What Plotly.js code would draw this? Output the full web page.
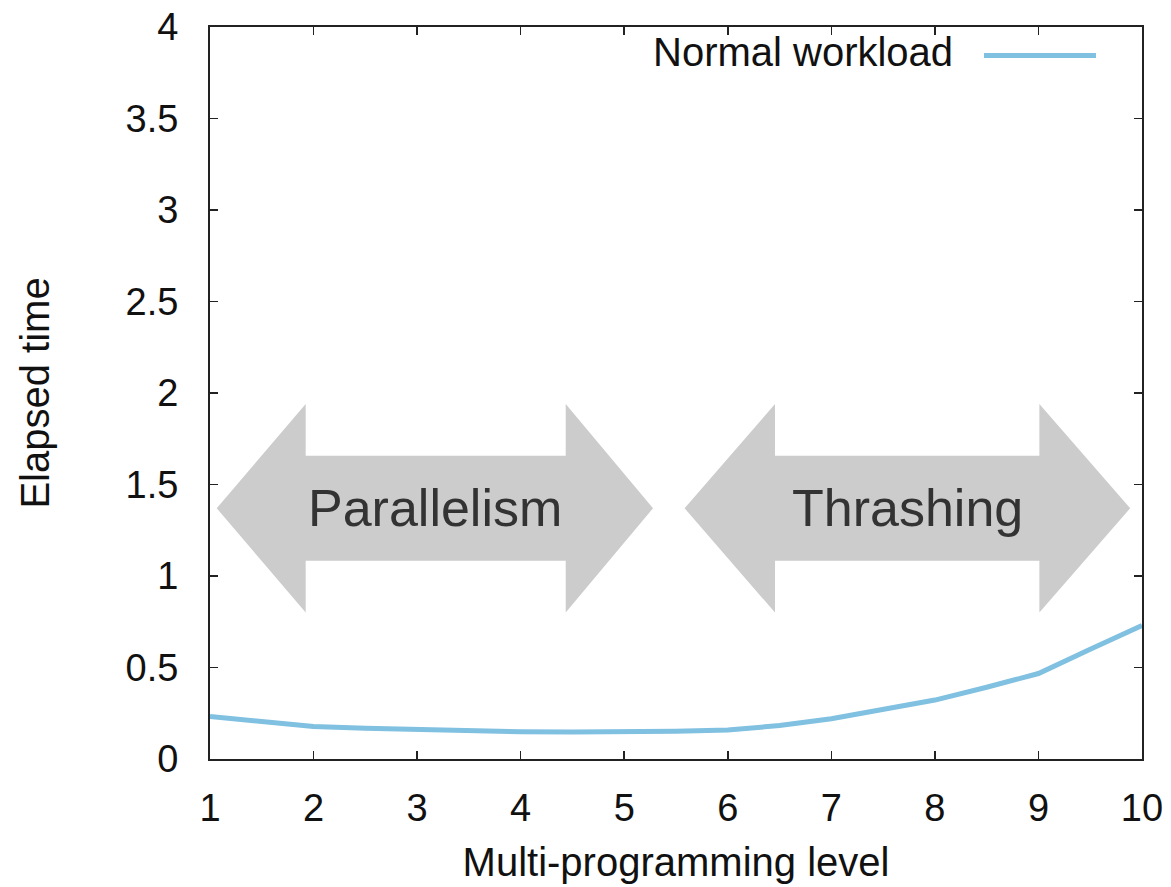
<!DOCTYPE html>
<html>
<head>
<meta charset="utf-8">
<script src="https://cdn.plot.ly/plotly-3.0.1.min.js"></script>
<style>html,body{margin:0;padding:0;background:#fff;}#chart{width:1171px;height:887px;}</style>
</head>
<body>
<div id="chart"></div>
<script>
// Data
const mplLevel = [1, 1.5, 2, 2.5, 3, 3.5, 4, 4.5, 5, 5.5, 6, 6.5, 7, 7.5, 8, 8.5, 9, 9.5, 10];
const elapsedNormal = [0.232, 0.204, 0.178, 0.168, 0.160, 0.153, 0.149, 0.148, 0.148, 0.152, 0.158, 0.183, 0.220, 0.268, 0.322, 0.392, 0.467, 0.600, 0.730];
const seriesName = 'Normal workload';
const xTickVals = [1, 2, 3, 4, 5, 6, 7, 8, 9, 10];
const yTickVals = [0, 0.5, 1, 1.5, 2, 2.5, 3, 3.5, 4];
const regionLabels = ['Parallelism', 'Thrashing'];

const FONT = 'Liberation Sans, Arial, Helvetica, sans-serif';
const lineColor = '#80c0e0';

// double-headed arrow path in data coordinates
function dblArrow(xl, xhl, xhr, xr, yc, headH, shaftH) {
  return 'M' + xl + ',' + yc +
    ' L' + xhl + ',' + (yc + headH) +
    ' L' + xhl + ',' + (yc + shaftH) +
    ' L' + xhr + ',' + (yc + shaftH) +
    ' L' + xhr + ',' + (yc + headH) +
    ' L' + xr + ',' + yc +
    ' L' + xhr + ',' + (yc - headH) +
    ' L' + xhr + ',' + (yc - shaftH) +
    ' L' + xhl + ',' + (yc - shaftH) +
    ' L' + xhl + ',' + (yc - headH) + ' Z';
}
const arrowGeom = [
  {xl: 1.065, xhl: 1.924, xhr: 4.435, xr: 5.278},
  {xl: 5.583, xhl: 6.456, xhr: 9.009, xr: 9.886}
];
const yc = 1.37, headH = 0.57, shaftH = 0.287;

const shapes = arrowGeom.map(g => ({
  type: 'path', xref: 'x', yref: 'y', layer: 'below',
  path: dblArrow(g.xl, g.xhl, g.xhr, g.xr, yc, headH, shaftH),
  fillcolor: '#cccccc', line: {width: 0}
}));
// legend sample line (gnuplot style: key text left of sample)
shapes.push({type: 'line', xref: 'paper', yref: 'paper', x0: 0.8305, x1: 0.9506, y0: 0.961, y1: 0.961,
  line: {color: lineColor, width: 5}});

const annotations = arrowGeom.map((g, i) => ({
  xref: 'x', yref: 'y', x: (g.xl + g.xr) / 2, y: yc, text: regionLabels[i], showarrow: false,
  font: {family: FONT, size: 52, color: '#333333'}, xanchor: 'center', yanchor: 'middle'
}));
annotations.push({xref: 'paper', yref: 'paper', x: 0.7994, y: 0.9655, text: seriesName, showarrow: false,
  xanchor: 'right', yanchor: 'middle', font: {family: FONT, size: 40, color: '#111111'}});

const trace = {
  x: mplLevel, y: elapsedNormal, type: 'scatter', mode: 'lines', name: seriesName,
  line: {color: lineColor, width: 5}, showlegend: false
};

const axisCommon = {
  showgrid: false, zeroline: false, showline: true, linecolor: '#222', linewidth: 2,
  mirror: 'allticks', ticks: 'inside', ticklen: 8, tickwidth: 1.5, tickcolor: '#222',
  tickfont: {family: FONT, size: 38, color: '#111'}
};

const layout = {
  width: 1171, height: 887,
  margin: {l: 210, r: 29, t: 27, b: 128},
  paper_bgcolor: '#fff', plot_bgcolor: '#fff',
  xaxis: Object.assign({}, axisCommon, {
    range: [1, 10], tickvals: xTickVals, ticklabelstandoff: 14,
    title: {text: 'Multi-programming level', font: {family: FONT, size: 40, color: '#111'}, standoff: 20}
  }),
  yaxis: Object.assign({}, axisCommon, {
    range: [0, 4], tickvals: yTickVals, ticklabelstandoff: 22,
    title: {text: 'Elapsed time', font: {family: FONT, size: 40, color: '#111'}, standoff: 64}
  }),
  shapes: shapes,
  annotations: annotations,
  showlegend: false
};

Plotly.newPlot('chart', [trace], layout, {staticPlot: true, displayModeBar: false});
</script>
</body>
</html>
